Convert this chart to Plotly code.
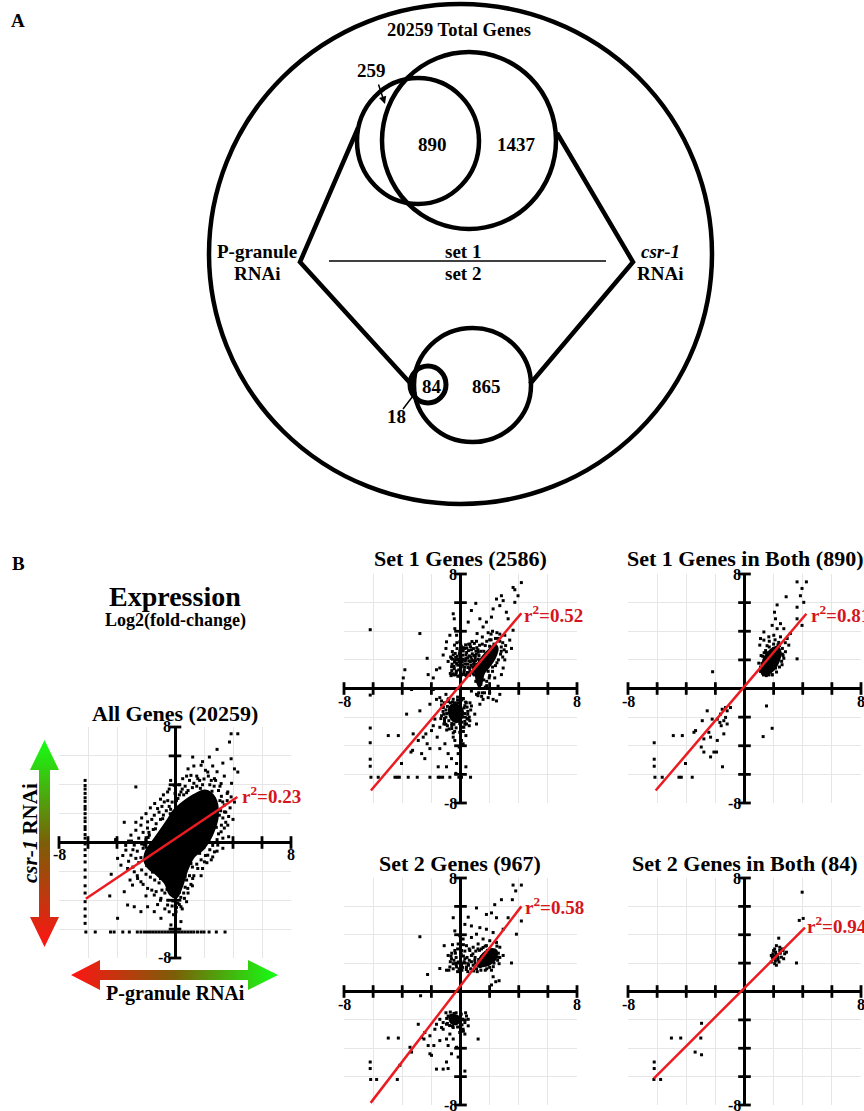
import plotly.graph_objects as go

W, H = 864, 1111

# ---------------- data ----------------
TICKS = [-8, -6, -4, -2, 2, 4, 6, 8]
FLOOR = -6.2  # value shown for genes with no reads

# Venn counts (panel A)
TOTAL_GENES = 20259
SET1_PG_ONLY, SET1_BOTH, SET1_CSR_ONLY = 259, 890, 1437
SET2_PG_ONLY, SET2_BOTH, SET2_CSR_ONLY = 18, 84, 865

PANEL_TITLES = ["All Genes (20259)", "Set 1 Genes (2586)", "Set 1 Genes in Both (890)",
                "Set 2 Genes (967)", "Set 2 Genes in Both (84)"]
R2_VALUES = [0.23, 0.52, 0.81, 0.58, 0.94]
FIT_X = [[-6.15, 4.3], [-6.15, 4.18], [-6.1, 4.25], [-6.17, 4.18], [-6.22, 4.15]]
FIT_Y = [[-3.9, 3.15], [-7.13, 5.26], [-7.13, 5.22], [-7.85, 6.0], [-6.12, 4.5]]

# All genes: dense core outline + surrounding points
ALL_CORE = [(-2.1, -1.3), (-2.0, -0.6), (-1.6, 0.0), (-1.1, 0.7), (-0.55, 1.5), (-0.1, 2.2), (0.5, 2.75),
            (1.3, 3.3), (2.1, 3.6), (2.75, 3.1), (2.95, 1.8), (2.55, 0.5), (2.0, -0.4), (1.3, -1.0),
            (0.85, -1.9), (0.5, -3.0), (0.1, -3.8), (-0.35, -3.6), (-0.7, -2.8), (-1.3, -2.2), (-1.8, -1.8)]
ALL_PTS = [(3.87, 7.53), (4.33, 7.53), (3.76, 6.96), (2.9, 6.45), (2.37, 5.92), (3.87, 5.8), (4.1, 5.1),
           (4.33, 4.88), (1.22, 5.92), (1.8, 5.35), (1.1, 4.65), (0.53, 4.42), (1.57, 4.42), (2.26, 4.88),
           (2.72, 4.42), (3.18, 4.08), (3.64, 3.5), (3.87, 3.16), (4.1, 2.8), (3.41, 2.12), (3.64, 1.2),
           (3.18, 0.74), (2.95, -0.18), (2.72, -0.65), (2.26, -0.88), (2.03, -1.34), (1.57, -1.8),
           (1.22, -2.49), (0.88, -3.18), (0.65, -3.87), (0.41, -4.45), (0.07, -4.79), (0.41, -5.48),
           (-0.28, -5.71), (-0.97, -5.25), (-1.43, -4.79), (-1.89, -4.45), (-2.35, -4.79), (-2.81, -4.45),
           (-3.27, -4.33), (-3.96, -5.25), (-3.5, -3.41), (-2.93, -2.95), (-2.35, -2.72), (-1.89, -3.18),
           (-1.43, -3.64), (-0.97, -3.87), (-0.51, -4.33), (-3.96, -1.1), (-3.73, -1.57), (-3.27, -1.8),
           (-2.81, -2.03), (-2.58, -2.49), (-3.04, -0.88), (-3.39, -0.53), (-2.81, -0.18), (-3.04, 0.51),
           (-2.7, 0.85), (-2.35, 1.2), (-1.89, 1.43), (-1.43, 1.89), (-1.2, 2.35), (-0.74, 2.81),
           (-0.51, 3.5), (-0.05, 3.96), (0.41, 3.5), (-2.7, 3.85), (-1.77, 0.51), (-2.12, -0.18),
           (3.29, 2.81), (3.06, 1.89), (-4.4, -2.2), (-4.1, 0.2), (-3.5, 1.4), (-4.5, -3.7),
           (2.5, 4.3), (1.9, 4.0), (1.3, 4.1), (0.7, 3.9), (2.9, 4.9), (3.3, 5.5), (2.1, 5.0), (0.9, 5.1),
           (-0.3, 4.3), (-1.0, 3.0), (-1.7, 2.4), (-2.3, 1.7), (-3.2, 0.1), (-3.6, -0.9), (-3.1, -2.6),
           (-2.0, -3.7), (-1.2, -4.3), (-0.4, -4.8), (0.2, -4.2), (1.1, -2.9), (1.8, -2.3), (2.5, -1.2),
           (3.3, -0.4), (3.7, 0.4), (4.0, 1.6), (3.6, 2.9), (3.4, 1.0),
           (-2.6, -0.6), (-2.3, -0.1), (-2.0, 0.2), (-1.8, 0.7), (-1.5, 0.9), (-1.3, 1.3), (-1.0, 1.6),
           (-0.8, 1.9), (-0.6, 2.2), (-0.3, 2.3), (-0.2, 2.8), (0.1, 2.9), (0.3, 3.3), (0.6, 3.3), (0.9, 3.6),
           (1.2, 3.8), (1.5, 3.9), (1.7, 4.3), (2.0, 4.4), (2.4, 4.0), (2.7, 3.9), (3.0, 3.6), (3.2, 3.2),
           (3.4, 2.6), (3.5, 2.1), (3.3, 1.7), (3.2, 1.2), (3.0, 0.6), (2.9, 0.2), (2.6, -0.2), (2.4, -0.5),
           (2.1, -0.9), (1.8, -1.2), (1.5, -1.5), (1.2, -1.7), (1.0, -2.3), (0.8, -2.6), (0.7, -3.1),
           (0.6, -3.5), (0.4, -3.8), (0.3, -4.3), (0.1, -4.5), (-0.2, -4.4), (-0.5, -4.0), (-0.7, -3.5),
           (-0.9, -3.3), (-1.1, -2.8), (-1.4, -2.6), (-1.7, -2.4), (-2.0, -2.2), (-2.3, -1.9), (-2.5, -1.4),
           (-2.7, -1.1), (-2.9, -0.5), (-2.5, 0.3), (-2.2, 0.7), (-1.9, 1.0), (-1.6, 1.6), (-1.1, 2.1),
           (-0.9, 2.5), (-0.5, 2.9), (0.0, 3.4), (0.5, 3.7), (1.0, 4.3), (1.5, 4.6), (2.3, 4.6), (2.8, 4.3),
           (3.1, 3.9), (3.6, 3.4), (3.8, 2.4), (3.7, 1.8), (3.5, 1.4), (3.3, 0.3), (2.9, -0.6), (2.6, -1.0),
           (2.2, -1.4), (1.9, -1.8), (1.3, -2.3), (1.2, -3.0), (0.9, -3.5), (0.8, -4.1), (0.5, -4.6),
           (-0.1, -5.0), (-0.7, -4.6), (-1.0, -4.0), (-1.3, -3.4), (-1.6, -3.3), (-2.2, -2.9), (-2.6, -2.3),
           (-2.9, -1.7), (-3.2, -1.3), (-3.4, -0.2), (-3.0, 0.1), (-2.7, 1.4), (-2.0, 2.0), (-1.4, 2.7),
           (-0.8, 3.3), (-0.4, 3.7), (0.3, 4.0), (0.8, 4.6), (1.3, 5.3), (1.9, 5.6), (2.6, 5.3), (3.4, 4.6),
           (3.9, 4.1),
           (-2.35, -1.05), (-2.2, -0.4), (-1.85, 0.35), (-1.35, 0.95), (-0.85, 1.65), (-0.4, 2.5),
           (0.2, 3.05), (0.8, 3.45), (1.75, 3.75), (2.55, 3.55), (3.1, 2.9), (3.15, 2.2), (2.85, 1.05),
           (2.35, 0.05), (1.7, -0.75), (1.1, -1.45), (0.7, -2.35), (0.3, -3.45), (-0.15, -4.05),
           (-0.55, -3.25), (-1.0, -2.5), (-1.55, -2.05), (-1.95, -1.6)]
ALL_FLOOR_COL_Y = [4.3, 3.95, 3.7, 3.4, 3.1, 2.85, 2.5, 2.3, 2.0, 1.7, 1.45, 1.1, 0.9, 0.55, 0.3, -0.1,
                   -0.5, -0.9, -1.35, -1.9, -2.4, -3.0, -3.5, -4.1, -4.6, -5.1, -5.6]
ALL_FLOOR_ROW_X = [-6.15, -5.5, -4.45, -4.2, -3.6, -3.15, -2.6, -2.35, -2.1, -1.9, -1.7, -1.5, -1.3,
                   -1.1, -0.9, -0.7, -0.5, -0.3, -0.1, 0.1, 0.3, 0.5, 0.7, 0.9, 1.1, 1.3, 1.55, 1.8,
                   2.0, 2.35, 2.85, 3.45]

# Set 1 genes
SET1_CORES = [
    [(1.05, 1.4), (1.35, 2.0), (1.85, 2.6), (2.35, 3.05), (2.55, 2.8), (2.35, 2.1), (1.95, 1.5),
     (1.6, 1.05), (1.45, 0.4), (1.3, 0.1), (1.15, 0.4), (1.05, 0.95)],
    [(-0.75, -1.3), (-0.45, -1.1), (-0.1, -1.2), (0.15, -1.5), (0.15, -1.9), (-0.05, -2.25),
     (-0.35, -2.35), (-0.65, -2.1), (-0.8, -1.7)],
]
SET1_PTS = [(-4.96, -3.29), (-4.27, -3.29), (-4.05, -5.24), (-3.7, -1.79), (-3.4, -4.44), (-3.29, -4.32),
            (-2.79, -1.56), (-2.9, -3.63), (-2.56, -3.4), (-2.45, -4.9), (-2.38, -3.17), (-2.29, -3.86),
            (-2.1, -4.2), (-1.99, -2.94), (-1.87, -2.6), (-1.76, -2.14), (-1.6, -3.4), (-1.53, -5.47),
            (-1.42, -2.71), (-1.42, -4.2), (-1.19, -1.33), (-1.14, -2.48), (-1.07, -3.86), (-0.96, -5.47),
            (-0.85, -4.55), (-0.78, -2.83), (-0.62, -4.9), (-0.5, -3.4), (-0.39, -3.63), (-0.27, -5.24),
            (-0.16, -4.55), (-0.09, -4.09), (-0.05, -3.06), (0.07, -3.63), (0.18, -3.86), (0.23, -2.71),
            (0.37, -3.29), (0.41, -2.48), (0.53, -2.14), (0.64, -2.25), (0.75, -1.22), (0.98, -1.79),
            (1.1, -2.48), (0.37, -5.47), (-0.32, -5.93), (-2.67, -4.55), (-3.25, -3.17), (-2.1, -1.1),
            (-1.87, -0.07), (-1.65, -0.76), (-1.42, -0.64), (-1.3, -0.87), (-1.0, -0.41), (-0.85, -0.76),
            (-3.36, -0.07), (-3.93, 0.74), (-3.82, 1.31), (-2.79, 3.84), (-2.29, 2.11),
            (-1.2, -1.6), (-1.1, -2.1), (0.4, -1.0), (0.5, -1.6), (-0.2, -0.6), (0.2, -0.7), (-0.6, -2.8),
            (0.1, -2.7), (-0.4, -3.0), (0.6, -2.0), (-1.3, -1.9), (-0.8, -0.7), (0.3, -2.3), (-0.3, -2.2),
            (-1.0, -2.5),
            (-1.1, -1.0), (-1.2, -1.3), (-1.15, -1.8), (-1.1, -2.3), (-0.9, -2.6), (-0.6, -2.6), (-0.3, -2.75),
            (0.0, -2.6), (0.3, -2.5), (0.45, -2.1), (0.5, -1.8), (0.45, -1.3), (0.35, -0.95), (0.1, -0.8),
            (-0.2, -0.8), (-0.5, -0.75), (-0.85, -0.9), (-1.3, -1.15), (-1.35, -2.1), (-0.95, -2.9),
            (-0.5, -3.1), (0.2, -3.0), (0.6, -2.6), (0.7, -1.5), (0.65, -1.0), (-0.7, -1.0), (-0.4, -1.0),
            (0.0, -1.0), (0.3, -1.2), (-0.05, -2.45), (-0.6, -2.45), (-1.0, -1.5),
            (-0.9, -1.25), (-0.95, -1.75), (-0.8, -2.25), (-0.45, -2.5), (0.1, -2.35), (0.3, -1.75),
            (0.25, -1.35), (-0.2, -1.0), (-0.55, -0.95), (-1.0, -2.0),
            (-0.5, 5.22), (-0.43, 4.87), (-0.39, 4.18), (-0.27, 3.72), (-0.05, 3.26), (0.3, 2.8),
            (0.53, 4.64), (0.75, 5.45), (1.05, 5.95), (1.14, 3.84), (1.33, 4.87), (1.55, 4.3), (1.78, 4.64),
            (2.13, 4.99), (2.24, 5.56), (2.47, 6.25), (2.7, 5.79), (2.81, 6.48), (2.93, 6.14), (3.15, 5.33),
            (3.27, 4.87), (3.04, 3.72), (3.38, 3.38), (3.5, 2.8), (3.61, 7.06), (3.73, 6.9), (3.61, 4.07),
            (3.15, 2.57), (3.04, 2.0), (2.93, 1.43), (2.81, 0.97), (2.58, 0.16), (2.7, -0.41), (2.47, -0.87),
            (2.24, -0.76), (1.9, -0.64), (1.55, -0.76), (1.33, -1.1), (1.1, -0.41), (0.75, -0.18),
            (-1.0, 2.8), (-1.19, 2.34), (-1.42, 1.43), (-1.65, 1.31), (-1.87, 0.74), (-2.22, 0.97),
            (-0.96, 3.26), (-0.73, 3.72), (-0.62, 2.11), (-0.85, 1.89), (1.97, 0.74), (2.35, 0.74),
            (4.18, 7.4), (3.95, 6.48), (3.73, 6.02),
            (-0.52, 1.03), (-0.43, 1.38), (-0.41, 1.84), (-0.33, 2.17), (-0.28, 1.22), (-0.19, 1.63),
            (-0.14, 2.04), (-0.08, 2.43), (0.02, 1.08), (0.06, 1.52), (0.12, 1.88), (0.17, 2.33),
            (0.21, 0.99), (0.26, 1.31), (0.31, 1.72), (0.37, 2.09), (0.42, 2.52), (0.46, 1.12),
            (0.51, 1.47), (0.57, 1.93), (0.61, 2.28), (0.64, 1.18), (0.71, 1.61), (0.77, 2.02),
            (0.81, 2.42), (0.86, 1.02), (0.91, 1.36), (0.94, 1.77), (1.01, 2.16), (1.06, 2.61),
            (-0.56, 2.58), (-0.24, 2.79), (0.11, 2.69), (0.44, 2.83), (0.69, 2.91), (-0.61, 1.52),
            (-0.04, 0.91), (0.34, 0.96), (0.62, 0.93), (1.21, 1.12), (-0.31, 0.96), (0.19, 2.62),
            (1.12, 1.69), (0.89, 2.79), (1.22, 2.53), (1.31, 3.02), (0.56, 3.09), (-0.41, 3.03),
            (0.01, 3.12), (0.79, 3.28),
            (-0.65, 0.9), (-0.6, 1.25), (-0.58, 1.7), (-0.55, 2.05), (-0.5, 2.35), (-0.47, 0.95), (-0.44, 1.55),
            (-0.38, 1.95), (-0.36, 2.45), (-0.3, 1.1), (-0.27, 1.75), (-0.22, 2.25), (-0.18, 0.85),
            (-0.12, 1.3), (-0.1, 1.85), (-0.05, 2.6), (0.0, 1.25), (0.03, 2.15), (0.08, 0.95), (0.13, 1.65),
            (0.15, 2.05), (0.2, 2.85), (0.24, 1.15), (0.28, 1.5), (0.33, 1.95), (0.38, 2.35), (0.4, 0.9),
            (0.48, 1.7), (0.5, 2.15), (0.55, 2.65), (0.58, 1.05), (0.63, 1.4), (0.68, 1.85), (0.72, 2.2),
            (0.75, 2.7), (0.8, 1.15), (0.84, 1.5), (0.88, 1.95), (0.92, 2.3), (0.95, 0.95), (1.0, 1.55),
            (1.03, 1.95), (1.08, 2.4), (1.12, 2.85), (1.18, 1.45), (1.22, 2.05), (1.27, 2.3), (1.3, 1.8),
            (-0.7, 1.05), (-0.68, 2.2), (0.05, 2.95), (0.35, 3.05), (0.65, 3.1), (0.95, 3.15), (-0.25, 3.2),
            (1.4, 1.25), (1.45, 1.7),
            (1.6, 2.0), (1.8, 2.4), (2.1, 2.7), (2.3, 3.1), (2.6, 3.5), (2.0, 3.4), (1.7, 3.0), (1.4, 2.6),
            (2.4, 2.4), (2.8, 2.6), (2.5, 1.8), (2.2, 1.5), (1.9, 1.2), (1.6, 0.6), (1.4, 0.3), (1.2, 0.5),
            (1.8, 0.2), (2.0, -0.3), (1.5, -0.3), (1.2, -0.5), (2.7, 3.8), (2.9, 3.2), (3.1, 3.0),
            (1.1, 3.3), (1.5, 3.6), (2.2, 4.0), (1.9, 3.9),
            (0.9, 1.7), (1.0, 2.3), (1.2, 2.7), (1.5, 3.1), (1.8, 3.3), (2.1, 3.4), (2.4, 3.5), (2.7, 3.3),
            (2.8, 2.9), (2.75, 2.4), (2.6, 2.0), (2.4, 1.6), (2.2, 1.2), (2.0, 0.9), (1.8, 0.5), (1.7, 0.1),
            (1.65, -0.3), (1.45, -0.55), (1.25, -0.3), (1.1, 0.0), (1.05, 0.5), (0.95, 1.2), (1.55, 1.3),
            (1.7, 1.6), (1.9, 2.0), (2.15, 2.3), (2.3, 2.6), (2.0, 2.95), (1.6, 2.6), (1.3, 1.9), (1.4, 0.8),
            (1.2, 0.9), (2.9, 2.2), (3.0, 2.7), (2.5, 3.9), (2.1, 3.8)]
SET1_FLOOR_COL_Y = [4.11, -0.46, -2.76, -3.79, -4.94, -5.43]
SET1_FLOOR_ROW_X = [-6.15, -5.65, -4.5, -4.34, -4.2, -3.59, -2.97, -2.1, -1.53, -1.42, -1.23, -0.73,
                    -0.11, 0.07, 0.69]

# Set 1 genes in both
SET1B_CORES = [
    [(1.21, 1.43), (1.33, 2.11), (1.78, 2.69), (2.24, 2.92), (2.47, 2.57), (2.35, 1.89), (2.01, 1.31),
     (1.55, 1.01), (1.21, 1.01)],
]
SET1B_PTS = [(3.61, 7.45), (4.25, 7.45), (3.95, 6.99), (3.84, 6.48), (2.86, 6.41), (3.61, 5.68), (4.07, 6.02),
             (2.24, 5.84), (2.06, 5.33), (2.13, 4.87), (2.47, 4.53), (2.7, 4.18), (2.24, 4.18), (1.9, 4.41),
             (1.33, 3.95), (1.1, 3.49), (1.05, 3.03), (1.33, 3.38), (1.67, 3.61), (2.01, 3.72), (2.47, 3.61),
             (2.93, 3.49), (3.04, 3.03), (2.81, 2.57), (2.7, 2.11), (2.58, 1.66), (2.13, 1.43), (1.9, 0.97),
             (1.44, 1.15), (1.1, 1.2), (0.98, 1.77), (1.14, 2.3), (1.55, 2.99), (2.35, 3.22), (3.15, 3.84),
             (3.61, 4.87), (3.95, 4.41), (3.61, 2.07), (-2.19, 1.17),
             (1.4, 1.6), (1.6, 2.2), (1.9, 2.4), (2.1, 1.9), (1.7, 1.3), (2.2, 2.2), (1.3, 1.8), (1.8, 1.7),
             (2.0, 2.8), (1.5, 2.5), (2.4, 3.0), (1.2, 1.3), (2.6, 2.4), (1.65, 0.95), (1.35, 2.5),
             (1.15, 1.2), (1.2, 1.75), (1.25, 2.25), (1.45, 2.65), (1.7, 2.9), (2.0, 3.1), (2.3, 3.05),
             (2.6, 2.8), (2.65, 2.3), (2.55, 1.9), (2.4, 1.5), (2.2, 1.15), (1.9, 0.95), (1.5, 0.9), (1.3, 0.95),
             (1.75, 1.15), (2.0, 1.6), (2.3, 2.1), (1.5, 1.9), (1.9, 2.25), (1.1, 1.5), (2.8, 3.2), (2.1, 3.4),
             (1.7, 3.3),
             (1.51, -1.22), (1.9, -2.78), (1.28, -3.36),
             (-0.96, -1.33), (-1.3, -1.33), (-1.53, -1.45), (-1.19, -1.56), (-1.65, -1.79), (-1.3, -2.02),
             (-1.42, -2.25), (-1.69, -2.37), (-1.87, -2.14), (-2.22, -2.14), (-2.56, -1.56), (-2.9, -2.25),
             (-2.45, -3.06), (-2.33, -3.4), (-2.79, -3.52), (-3.36, -2.94), (-3.47, -3.06), (-4.27, -3.29),
             (-4.89, -3.29), (-2.79, -4.44), (-2.1, -4.44), (-1.92, -4.44), (-2.33, -4.78), (-2.97, -4.09),
             (-4.05, -5.24), (-1.51, -5.47), (-1.6, -2.6), (-1.19, -2.48), (-1.42, -3.17), (-1.87, -3.63)]
SET1B_FLOOR_COL_Y = [-3.79, -4.94, -5.43]
SET1B_FLOOR_ROW_X = [-6.15, -5.65, -4.5, -4.34, -3.59]

# Set 2 genes
SET2_CORES = [
    [(1.21, 2.08), (1.55, 2.66), (2.13, 3.0), (2.47, 2.89), (2.42, 2.31), (2.01, 1.92), (1.55, 1.78),
     (1.21, 1.78)],
    [(-0.75, -1.7), (-0.4, -1.65), (-0.1, -1.8), (-0.1, -2.1), (-0.25, -2.3), (-0.6, -2.25), (-0.75, -2.0)],
]
SET2_PTS = [(3.61, 7.5), (4.18, 7.5), (3.79, 7.09), (3.56, 6.47), (2.81, 6.47), (2.35, 6.12), (1.1, 5.89),
            (2.13, 5.54), (1.78, 5.43), (2.47, 5.2), (3.27, 5.2), (4.18, 4.97), (-0.5, 5.2), (0.53, 5.24),
            (0.75, 4.62), (0.3, 4.73), (1.33, 4.5), (1.78, 4.39), (2.24, 4.16), (2.93, 4.39), (3.84, 4.04),
            (-0.39, 4.27), (-0.05, 3.93), (0.18, 3.7), (0.75, 3.81), (1.1, 4.04), (1.55, 3.7), (2.01, 3.58),
            (2.47, 3.46), (2.7, 3.12), (2.58, 2.42), (2.93, 2.54), (2.65, 1.96), (3.5, 2.01), (-2.79, 3.86),
            (-1.12, 3.23), (-0.85, 2.54), (-0.62, 2.31), (-0.39, 2.89), (-0.16, 3.35), (0.07, 2.89),
            (0.3, 2.31), (0.53, 1.96), (0.75, 2.54), (0.87, 3.12), (0.41, 3.23), (-0.16, 2.08), (-0.5, 1.96),
            (-0.73, 1.73), (-0.27, 1.73), (0.07, 1.85), (0.41, 1.73), (0.87, 1.85), (0.98, 2.19),
            (0.64, 2.89), (1.21, 3.35), (1.44, 3.0), (1.78, 3.23), (-1.42, 1.62), (-0.96, 1.5),
            (-2.26, 1.2), (2.13, 1.5), (2.24, 1.04), (2.42, 0.69), (2.13, 0.46), (2.65, 0.76),
            (-2.74, -0.3), (-3.25, 0.0),
            (1.0, 2.4), (1.3, 2.9), (1.7, 3.2), (2.0, 2.6), (2.3, 2.0), (1.8, 1.6), (1.4, 1.5), (2.6, 2.7),
            (1.9, 2.3), (1.1, 1.6), (2.2, 2.5), (1.6, 2.1), (0.2, 2.5), (-0.3, 2.4), (0.6, 2.2), (-0.6, 2.7),
            (0.1, 1.5), (0.5, 1.4), (-0.2, 1.4),
            (-0.8, 1.5), (-0.7, 2.1), (-0.65, 2.5), (-0.5, 1.6), (-0.45, 2.2), (-0.35, 2.7), (-0.3, 1.9),
            (-0.2, 3.0), (-0.1, 1.6), (0.0, 2.2), (0.05, 2.65), (0.15, 1.7), (0.25, 2.1), (0.3, 2.85),
            (0.4, 1.55), (0.45, 2.4), (0.55, 1.85), (0.6, 3.0), (0.7, 1.6), (0.75, 2.1), (0.85, 2.65),
            (0.9, 1.45), (1.0, 2.0), (1.05, 2.85), (1.15, 1.4), (1.25, 2.25), (1.35, 1.75), (1.45, 2.45),
            (1.55, 3.1), (1.7, 1.5), (1.85, 2.9), (2.0, 1.7), (2.25, 1.75), (2.35, 2.65), (2.55, 2.2),
            (2.7, 2.4), (2.5, 3.2), (1.2, 3.0), (0.2, 3.3), (-0.55, 3.3),
            (-0.85, -1.73), (0.41, -1.73), (0.53, -1.96), (0.3, -2.19), (0.53, -2.42), (0.18, -2.66),
            (0.3, -3.0), (-0.05, -2.89), (-0.5, -2.54), (-0.73, -3.0), (-0.96, -3.35), (-0.85, -3.81),
            (-0.62, -4.39), (-0.96, -4.97), (-0.85, -5.43), (-0.16, -4.62), (0.3, -5.61), (1.21, -3.35),
            (-1.42, -1.96), (-1.65, -2.31), (-1.76, -2.66), (-1.42, -3.46), (-1.83, -3.81), (-2.22, -3.81),
            (-2.45, -2.89), (-2.67, -3.23), (-2.9, -2.31), (-3.36, -4.27), (-3.47, -3.93), (-2.1, -4.39),
            (-1.99, -4.5), (-1.65, -5.47), (-1.19, -5.47), (-4.96, -3.28), (-4.27, -3.28), (-4.16, -5.2),
            (-2.1, -3.12), (-2.51, -3.35), (-0.96, -2.31), (-1.19, -2.19), (-1.3, -2.54), (-0.39, -1.96),
            (-0.05, -2.08), (-1.19, -2.66), (-0.5, -3.35), (-0.27, -3.93),
            (-1.0, -1.5), (-0.95, -1.9), (-0.9, -2.25), (-0.7, -1.45), (-0.55, -2.45), (-0.3, -1.5),
            (-0.2, -2.5), (0.05, -1.6), (0.15, -1.95), (0.1, -2.35), (-0.45, -1.55), (-0.75, -2.4),
            (0.35, -1.5), (0.2, -2.8)]
SET2_FLOOR_COL_Y = [-4.97, -5.43]
SET2_FLOOR_ROW_X = [-6.17, -5.76, -4.34]

# Set 2 genes in both
SET2B_CORES = []
SET2B_PTS = [(3.96, 7.0), (3.76, 5.01), (4.03, 5.15), (3.57, 2.01), (2.35, 3.76), (2.19, 3.23), (2.07, 3.0),
             (2.42, 3.12), (2.65, 2.89), (2.76, 2.66), (2.53, 2.42), (2.3, 2.24), (2.07, 1.96), (1.84, 2.08),
             (1.91, 2.42), (1.96, 2.66), (2.14, 2.77), (2.26, 2.54), (2.46, 2.7), (2.6, 3.0), (2.0, 2.89),
             (1.84, 2.54), (2.12, 2.15), (2.37, 2.08), (2.69, 2.31), (2.88, 2.77), (2.19, 1.85), (1.96, 2.31),
             (2.42, 2.89), (2.05, 2.5), (2.2, 2.6), (2.3, 2.4), (2.1, 2.35),
             (-2.95, -2.24), (-5.02, -3.28), (-4.38, -3.28), (-3.0, -3.28), (-3.39, -4.27), (-2.95, -4.46)]
SET2B_FLOOR_COL_Y = [-4.97, -5.43]
SET2B_FLOOR_ROW_X = [-6.22, -5.76]

PANEL_CORES = [[ALL_CORE], SET1_CORES, SET1B_CORES, SET2_CORES, SET2B_CORES]
PANEL_PTS = [ALL_PTS, SET1_PTS, SET1B_PTS, SET2_PTS, SET2B_PTS]
PANEL_FLOOR_COL = [ALL_FLOOR_COL_Y, SET1_FLOOR_COL_Y, SET1B_FLOOR_COL_Y, SET2_FLOOR_COL_Y, SET2B_FLOOR_COL_Y]
PANEL_FLOOR_ROW = [ALL_FLOOR_ROW_X, SET1_FLOOR_ROW_X, SET1B_FLOOR_ROW_X, SET2_FLOOR_ROW_X, SET2B_FLOOR_ROW_X]

# ---------------- layout / style ----------------
SERIF = "Liberation Serif"
RED = "#ea1c22"
RED_TXT = "#d4161c"

# pixel boxes of each scatter panel: (left, right, top, bottom)
PANEL_PX = [(59, 291, 727, 958), (344, 577, 574, 803), (628, 861, 574, 803),
            (344, 577, 878, 1105), (628, 861, 878, 1105)]
TITLE_PX = [(175, 713), (460, 558), (745, 558), (460, 863), (745, 863)]
R2_POS = [(4.45, 3.27), (4.25, 5.2), (4.4, 5.2), (4.3, 6.0), (4.15, 4.7)]


def font(size, color="black", bold=True):
    d = dict(family=SERIF, size=size, color=color)
    if bold:
        d["weight"] = "bold"
    return d


fig = go.Figure()
layout = dict(width=W, height=H, margin=dict(l=0, r=0, t=0, b=0, pad=0),
              paper_bgcolor="white", plot_bgcolor="rgba(0,0,0,0)", showlegend=False)
annotations = []
shapes = []

for i in range(5):
    n = i + 1
    xa, ya = ("x" if n == 1 else f"x{n}"), ("y" if n == 1 else f"y{n}")
    l, r, t, b = PANEL_PX[i]
    axis_common = dict(range=[-8, 8], showgrid=True, gridcolor="#e6e6e6", gridwidth=1, dtick=2, tick0=0,
                       zeroline=True, zerolinecolor="black", zerolinewidth=3, showticklabels=False,
                       ticks="", showline=False, fixedrange=True)
    layout["xaxis" if n == 1 else f"xaxis{n}"] = dict(domain=[l / W, r / W], anchor=ya, **axis_common)
    layout["yaxis" if n == 1 else f"yaxis{n}"] = dict(domain=[1 - b / H, 1 - t / H], anchor=xa, **axis_common)

    # dense cores
    for core in PANEL_CORES[i]:
        cx = [p[0] for p in core] + [core[0][0]]
        cy = [p[1] for p in core] + [core[0][1]]
        fig.add_trace(go.Scatter(x=cx, y=cy, xaxis=xa, yaxis=ya, mode="lines", fill="toself",
                                 line_shape="spline", fillcolor="black", line=dict(color="black", width=2),
                                 hoverinfo="skip"))
    # points
    pts = PANEL_PTS[i]
    px_ = [p[0] for p in pts] + [FLOOR] * len(PANEL_FLOOR_COL[i]) + PANEL_FLOOR_ROW[i]
    py_ = [p[1] for p in pts] + PANEL_FLOOR_COL[i] + [FLOOR] * len(PANEL_FLOOR_ROW[i])
    fig.add_trace(go.Scatter(x=px_, y=py_, xaxis=xa, yaxis=ya, mode="markers",
                             marker=dict(color="black", size=3, symbol="square"), hoverinfo="skip"))
    # axis tick marks
    fig.add_trace(go.Scatter(x=TICKS, y=[0] * len(TICKS), xaxis=xa, yaxis=ya, mode="markers", cliponaxis=False,
                             marker=dict(symbol="line-ns", size=9, line=dict(width=2.8, color="black")),
                             hoverinfo="skip"))
    fig.add_trace(go.Scatter(x=[0] * len(TICKS), y=TICKS, xaxis=xa, yaxis=ya, mode="markers", cliponaxis=False,
                             marker=dict(symbol="line-ew", size=9, line=dict(width=2.8, color="black")),
                             hoverinfo="skip"))
    # fit line
    fig.add_trace(go.Scatter(x=FIT_X[i], y=FIT_Y[i], xaxis=xa, yaxis=ya, mode="lines",
                             line=dict(color=RED, width=2.5), hoverinfo="skip"))
    # labels
    annotations.append(dict(x=R2_POS[i][0], y=R2_POS[i][1], xref=xa, yref=ya, xanchor="left", yanchor="middle",
                            text=f"r<sup>2</sup>=%.2f" % R2_VALUES[i], showarrow=False, font=font(19, RED_TXT)))
    annotations.append(dict(x=-8, y=0, xref=xa, yref=ya, xanchor="center", yanchor="top", yshift=-2,
                            text="-8", showarrow=False, font=font(16)))
    annotations.append(dict(x=8, y=0, xref=xa, yref=ya, xanchor="center", yanchor="top", yshift=-2,
                            text="8", showarrow=False, font=font(16)))
    annotations.append(dict(x=0, y=8, xref=xa, yref=ya, xanchor="right", yanchor="middle", xshift=-2,
                            text="8", showarrow=False, font=font(16)))
    annotations.append(dict(x=0, y=-8, xref=xa, yref=ya, xanchor="right", yanchor="middle", xshift=-2,
                            text="-8", showarrow=False, font=font(16)))
    annotations.append(dict(x=TITLE_PX[i][0], y=TITLE_PX[i][1], xref="x6", yref="y6", xanchor="center",
                            yanchor="middle", text=PANEL_TITLES[i], showarrow=False, font=font(22)))

# overlay axes in pixel coordinates for the diagram parts
layout["xaxis6"] = dict(domain=[0, 1], range=[0, W], visible=False, anchor="y6", fixedrange=True)
layout["yaxis6"] = dict(domain=[0, 1], range=[H, 0], visible=False, anchor="x6", fixedrange=True)

GRAD = [[0, "#ff1414"], [0.5, "#7c5e08"], [1, "#14ff14"]]
# vertical double arrow (csr-1 RNAi)
vx = [44.5, 59, 50, 50, 59, 44.5, 30, 39, 39, 30, 44.5]
vy = [740, 770, 770, 917, 917, 947, 917, 917, 770, 770, 740]
fig.add_trace(go.Scatter(x=vx, y=vy, xaxis="x6", yaxis="y6", mode="lines", fill="toself",
                         line=dict(width=0, color="rgba(0,0,0,0)"),
                         fillgradient=dict(type="vertical", colorscale=GRAD, start=947, stop=740),
                         hoverinfo="skip"))
# horizontal double arrow (P-granule RNAi)
hx = [71, 100, 100, 248, 248, 278, 248, 248, 100, 100, 71]
hy = [975, 960, 970, 970, 960, 975, 990, 980, 980, 990, 975]
fig.add_trace(go.Scatter(x=hx, y=hy, xaxis="x6", yaxis="y6", mode="lines", fill="toself",
                         line=dict(width=0, color="rgba(0,0,0,0)"),
                         fillgradient=dict(type="horizontal", colorscale=GRAD, start=71, stop=278),
                         hoverinfo="skip"))


def txt(x, y, s, size, anchor="center", angle=0, color="black", bold=True):
    annotations.append(dict(x=x, y=y, xref="x6", yref="y6", xanchor=anchor, yanchor="middle", text=s,
                            showarrow=False, textangle=angle, font=font(size, color, bold)))


txt(30, 833, "<i>csr-1</i> RNAi", 21, angle=-90)
txt(175, 993, "P-granule RNAi", 20)
txt(175, 596, "Expression", 28)
txt(175, 620, "Log2(fold-change)", 18)
txt(18, 20, "A", 19)
txt(18, 563, "B", 19)

# ---- Venn diagram (panel A) ----
LW = 4.5


def circ(x0, y0, x1, y1, w=LW):
    shapes.append(dict(type="circle", xref="x6", yref="y6", x0=x0, y0=y0, x1=x1, y1=y1,
                       line=dict(color="black", width=w)))


circ(209, 4, 712, 504)
circ(382, 52, 556, 229)
circ(357, 78, 479, 204)
circ(414, 328, 531, 442)
circ(410, 366, 446, 403, 5)
shapes.append(dict(type="path", xref="x6", yref="y6", path="M 358 128 L 300 262 L 411 384",
                   line=dict(color="black", width=LW)))
shapes.append(dict(type="path", xref="x6", yref="y6", path="M 557 133 L 633 262 L 530 384",
                   line=dict(color="black", width=LW)))
shapes.append(dict(type="line", xref="x6", yref="y6", x0=329, y0=261, x1=606, y1=261,
                   line=dict(color="black", width=1.5)))
shapes.append(dict(type="line", xref="x6", yref="y6", x0=403, y0=409, x1=416, y1=392,
                   line=dict(color="black", width=1.5)))
annotations.append(dict(x=385, y=104, ax=378, ay=83, xref="x6", yref="y6", axref="x6", ayref="y6",
                        text="", showarrow=True, arrowhead=2, arrowsize=1, arrowwidth=1.5, arrowcolor="black"))

txt(459, 30, f"{TOTAL_GENES} Total Genes", 18.5)
txt(371, 70, str(SET1_PG_ONLY), 19)
txt(432, 144, str(SET1_BOTH), 19)
txt(516, 144, str(SET1_CSR_ONLY), 19)
txt(432, 386, str(SET2_BOTH), 19)
txt(486, 386, str(SET2_CSR_ONLY), 19)
txt(396, 416, str(SET2_PG_ONLY), 19)
txt(463, 251, "set 1", 19)
txt(463, 273, "set 2", 19)
txt(257, 251, "P-granule", 19)
txt(257, 273, "RNAi", 19)
txt(660, 251, "<i>csr-1</i>", 19)
txt(660, 273, "RNAi", 19)

layout["annotations"] = annotations
layout["shapes"] = shapes
fig.update_layout(**layout)
fig.write_html("out.html")
